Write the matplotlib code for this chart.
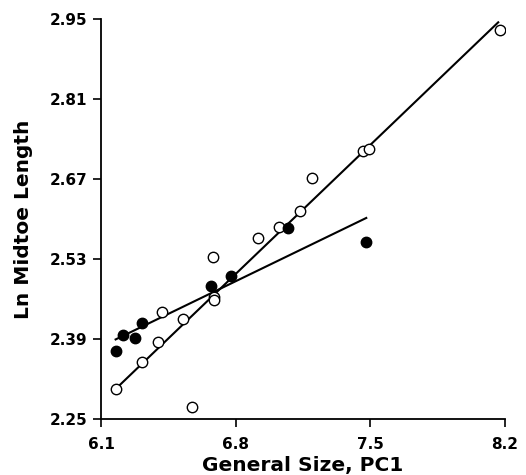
import matplotlib.pyplot as plt

# Open circles
open_x = [6.176, 6.313, 6.396, 6.417, 6.525, 6.574, 6.682, 6.686, 6.689, 6.916,
          7.025, 7.136, 7.195, 7.462, 7.493, 8.172]
open_y = [2.302, 2.349, 2.385, 2.437, 2.424, 2.270, 2.533, 2.464, 2.459, 2.566,
          2.587, 2.614, 2.672, 2.720, 2.723, 2.931]

# Filled circles
filled_x = [6.176, 6.216, 6.277, 6.315, 6.673, 6.777, 7.070, 7.479]
filled_y = [2.368, 2.396, 2.392, 2.418, 2.483, 2.501, 2.584, 2.560]

# Regression lines (endpoints)
open_line_x = [6.182, 8.165]
open_line_y = [2.304, 2.945]
filled_line_x = [6.176, 7.479]
filled_line_y = [2.389, 2.602]

x_ticks = [6.1, 6.8, 7.5, 8.2]
y_ticks = [2.25, 2.39, 2.53, 2.67, 2.81, 2.95]

plt.rcParams['font.family'] = ['DejaVu Sans']

fig = plt.figure(figsize=(5.26, 4.75), dpi=100)
ax = fig.add_axes([0.192, 0.1185, 0.768, 0.8405])

ax.plot(open_line_x, open_line_y, color='black', lw=1.5)
ax.plot(filled_line_x, filled_line_y, color='black', lw=1.5)
ax.plot(open_x, open_y, 'o', mfc='white', mec='black', mew=1.0, ms=7.5)
ax.plot(filled_x, filled_y, 'o', mfc='black', mec='black', ms=7.5)

ax.set_xlim(6.1, 8.2)
ax.set_ylim(2.25, 2.95)
ax.set_xticks(x_ticks)
ax.set_yticks(y_ticks)
ax.set_xticklabels([f'{v:.1f}' for v in x_ticks], fontweight='bold', fontsize=11)
ax.set_yticklabels([f'{v:.2f}' for v in y_ticks], fontweight='bold', fontsize=11)
ax.tick_params(direction='out', length=6, width=1.2)
ax.tick_params(axis='x', pad=7)
ax.tick_params(axis='y', pad=4)

for side in ['top', 'right']:
    ax.spines[side].set_visible(False)
for side in ['left', 'bottom']:
    ax.spines[side].set_linewidth(1.3)

ax.set_xlabel('General Size, PC1', fontsize=14.5, fontweight='bold', labelpad=3)
ax.set_ylabel('Ln Midtoe Length', fontsize=14.5, fontweight='bold', labelpad=12)

fig.savefig('out.png', dpi=100)
